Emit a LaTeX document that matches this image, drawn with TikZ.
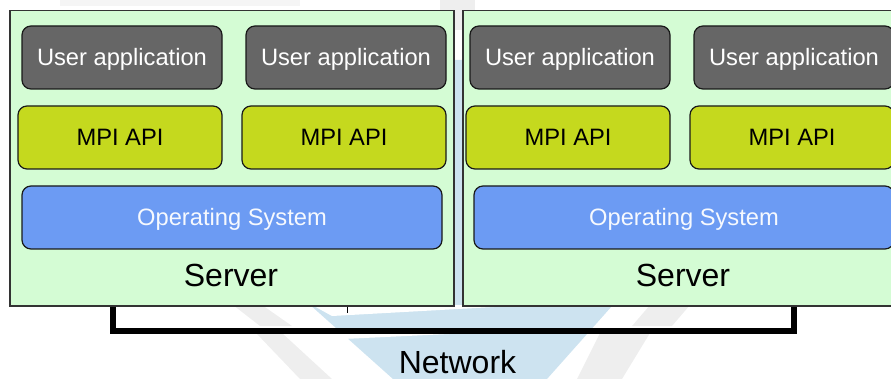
\documentclass[tikz,border=0pt]{standalone}
\usepackage{fontspec}
\setmainfont{Liberation Sans}
\definecolor{srvgreen}{HTML}{D4FCD4}
\definecolor{uagray}{HTML}{666666}
\definecolor{mpigreen}{HTML}{C5D91E}
\definecolor{osblue}{HTML}{6C9BF3}
\definecolor{wmblue}{HTML}{CDE3F0}
\definecolor{wmgray}{HTML}{EEEEEE}
\definecolor{wmgraylt}{HTML}{F5F5F5}
\begin{document}
\begin{tikzpicture}[x=1pt,y=-1pt,
  server/.style={draw=black!80, line width=1.5pt, fill=srvgreen, inner sep=0pt, anchor=north west, minimum height=295pt},
  layerbox/.style={draw=black!90, line width=1.2pt, rounded corners=9pt, minimum height=63pt, inner sep=0pt, text height=17pt, text depth=0pt, font=\fontsize{23.7}{28}\selectfont},
  uabox/.style={layerbox, fill=uagray, text=white, minimum width=200pt},
  mpibox/.style={layerbox, fill=mpigreen, text=black, minimum width=204pt},
  osbox/.style={layerbox, fill=osblue, text=white!94!osblue, minimum width=420pt},
  biglabel/.style={font=\fontsize{32}{38}\selectfont, anchor=base, inner sep=0pt},
  netbar/.style={line width=6.5pt, draw=black},
  wmb/.style={fill=wmblue, draw=none},
  wmw/.style={fill=white, draw=none},
  wmg/.style={fill=wmgray, draw=none},
]
\useasboundingbox (0,0) rectangle (891,379);
\clip (0,0) rectangle (891,379);
% watermark
\fill[wmgraylt] (60,0) rectangle (300,6);
\fill[wmg] (440,0) rectangle (475,30);
\fill[wmb] (36,60) -- (831,60) -- (547,379) -- (393,379) -- cycle;
\fill[wmw] (312,305) -- (332,316) -- (530,305) -- cycle;
\fill[wmw] (336,333) -- (343,339) -- (470,333) -- cycle;
\fill[wmg] (233,305) -- (262,305) -- (292,326) -- (260,326) -- cycle;
\fill[wmg] (256,333) -- (282,333) -- (332,379) -- (300,379) -- cycle;
\fill[wmg] (650,305) -- (690,305) -- (672,326) -- (632,326) -- cycle;
\fill[wmg] (600,333) -- (650,333) -- (622,379) -- (577,379) -- cycle;
% servers
\node[server, minimum width=444pt] (s1) at (9,10) {};
\node[server, minimum width=450pt] (s2) at (462,10) {};
% layers
\node[uabox] (ua1) at (122,57.5) {User application};
\node[uabox] (ua2) at (346,57.5) {User application};
\node[uabox] (ua3) at (570,57.5) {User application};
\node[uabox] (ua4) at (794,57.5) {User application};
\node[mpibox] (mpi1) at (120,137.5) {MPI API};
\node[mpibox] (mpi2) at (344,137.5) {MPI API};
\node[mpibox] (mpi3) at (568,137.5) {MPI API};
\node[mpibox] (mpi4) at (792,137.5) {MPI API};
\node[osbox] (os1) at (232,217.5) {Operating System};
\node[osbox] (os2) at (684,217.5) {Operating System};
\node[biglabel] (lab1) at (231,287) {Server};
\node[biglabel] (lab2) at (683,287) {Server};
% network
\draw[netbar] ([xshift=104pt]s1.south west) -- ++(0,24.5) -| ([xshift=332pt]s2.south west);
\draw[line width=0.8pt] ([xshift=338pt]s1.south west) -- ++(0,6);
\node[biglabel] (net) at (457.5,373) {Network};
\end{tikzpicture}
\end{document}
